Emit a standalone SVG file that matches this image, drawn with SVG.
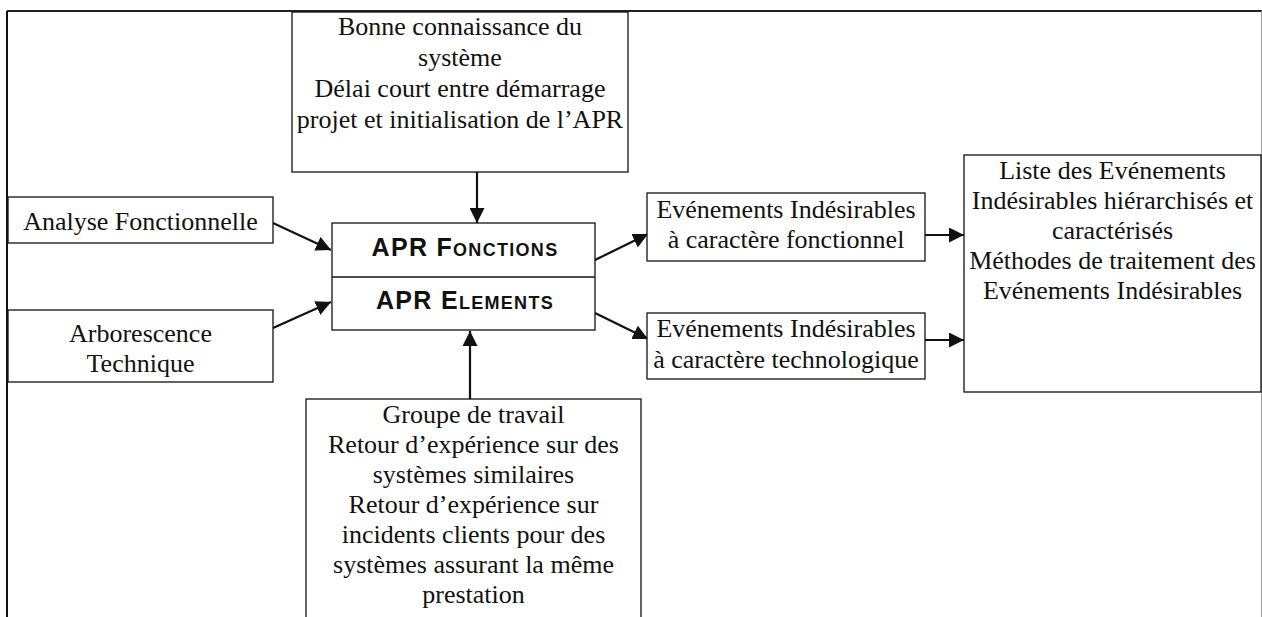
<svg xmlns="http://www.w3.org/2000/svg" width="1262" height="617" viewBox="0 0 1262 617">
<style>
.box{fill:#fff;stroke:#111;stroke-width:1.3}
.t{font-family:"Liberation Serif","Times New Roman",serif;font-size:26px;fill:#111;text-anchor:middle}
.b{font-family:"Liberation Sans",Arial,sans-serif;font-weight:bold;font-size:25px;fill:#111;text-anchor:middle;letter-spacing:1.3px}
.sc{font-size:18px}
.c{stroke:#111;stroke-width:2.2;fill:none;marker-end:url(#ah)}
</style>
<defs>
<marker id="ah" viewBox="0 0 15 15" refX="15" refY="7.5" markerWidth="15" markerHeight="15" markerUnits="userSpaceOnUse" orient="auto">
<path d="M0,0 L15,7.5 L0,15 z" fill="#111"/>
</marker>
</defs>
<rect width="1262" height="617" fill="#fff"/>
<g id="frame">
<line x1="7" y1="11" x2="1262" y2="11" stroke="#222" stroke-width="2"/>
<line x1="7" y1="11" x2="7" y2="617" stroke="#111" stroke-width="2"/>
<line x1="1261.5" y1="11" x2="1261.5" y2="617" stroke="#999" stroke-width="1"/>
</g>
<g id="connectors">
<line class="c" x1="477" y1="172" x2="477" y2="223"/>
<line class="c" x1="470" y1="399" x2="470" y2="331"/>
<line class="c" x1="273" y1="223" x2="331" y2="250"/>
<line class="c" x1="273" y1="328" x2="331" y2="302"/>
<line class="c" x1="595" y1="260" x2="648" y2="234"/>
<line class="c" x1="595" y1="313" x2="648" y2="339"/>
<line class="c" x1="925" y1="235" x2="964" y2="235"/>
<line class="c" x1="925" y1="340" x2="964" y2="340"/>
</g>
<g id="top-box">
<rect class="box" x="292" y="12" width="336" height="160"/>
<text class="t" x="460" y="35">Bonne connaissance du</text>
<text class="t" x="460" y="66">système</text>
<text class="t" x="460" y="97">Délai court entre démarrage</text>
<text class="t" x="460" y="128">projet et initialisation de l’APR</text>
</g>
<g id="analyse-fonctionnelle">
<rect class="box" x="8" y="197" width="265" height="46"/>
<text class="t" x="140.5" y="230">Analyse Fonctionnelle</text>
</g>
<g id="arborescence-technique">
<rect class="box" x="8" y="310" width="265" height="72"/>
<text class="t" x="140.5" y="342">Arborescence</text>
<text class="t" x="140.5" y="372">Technique</text>
</g>
<g id="apr">
<rect class="box" x="332" y="223" width="263" height="107"/>
<line x1="332" y1="277" x2="595" y2="277" stroke="#111" stroke-width="1.3"/>
<text class="b" x="465" y="256">APR F<tspan class="sc">ONCTIONS</tspan></text>
<text class="b" x="465" y="309">APR E<tspan class="sc">LEMENTS</tspan></text>
</g>
<g id="ei-fonctionnel">
<rect class="box" x="647" y="193" width="278" height="68"/>
<text class="t" x="786" y="218">Evénements Indésirables</text>
<text class="t" x="786" y="248">à caractère fonctionnel</text>
</g>
<g id="ei-technologique">
<rect class="box" x="647" y="313" width="278" height="66"/>
<text class="t" x="786" y="337">Evénements Indésirables</text>
<text class="t" x="786" y="368">à caractère technologique</text>
</g>
<g id="liste">
<rect class="box" x="964" y="155" width="297" height="237"/>
<text class="t" x="1112.5" y="179">Liste des Evénements</text>
<text class="t" x="1112.5" y="209">Indésirables hiérarchisés et</text>
<text class="t" x="1112.5" y="239">caractérisés</text>
<text class="t" x="1112.5" y="269">Méthodes de traitement des</text>
<text class="t" x="1112.5" y="299">Evénements Indésirables</text>
</g>
<g id="bottom-box">
<rect class="box" x="306" y="399" width="335" height="240"/>
<text class="t" x="473.5" y="423">Groupe de travail</text>
<text class="t" x="473.5" y="453">Retour d’expérience sur des</text>
<text class="t" x="473.5" y="483">systèmes similaires</text>
<text class="t" x="473.5" y="513">Retour d’expérience sur</text>
<text class="t" x="473.5" y="543">incidents clients pour des</text>
<text class="t" x="473.5" y="573">systèmes assurant la même</text>
<text class="t" x="473.5" y="603">prestation</text>
</g>
</svg>
